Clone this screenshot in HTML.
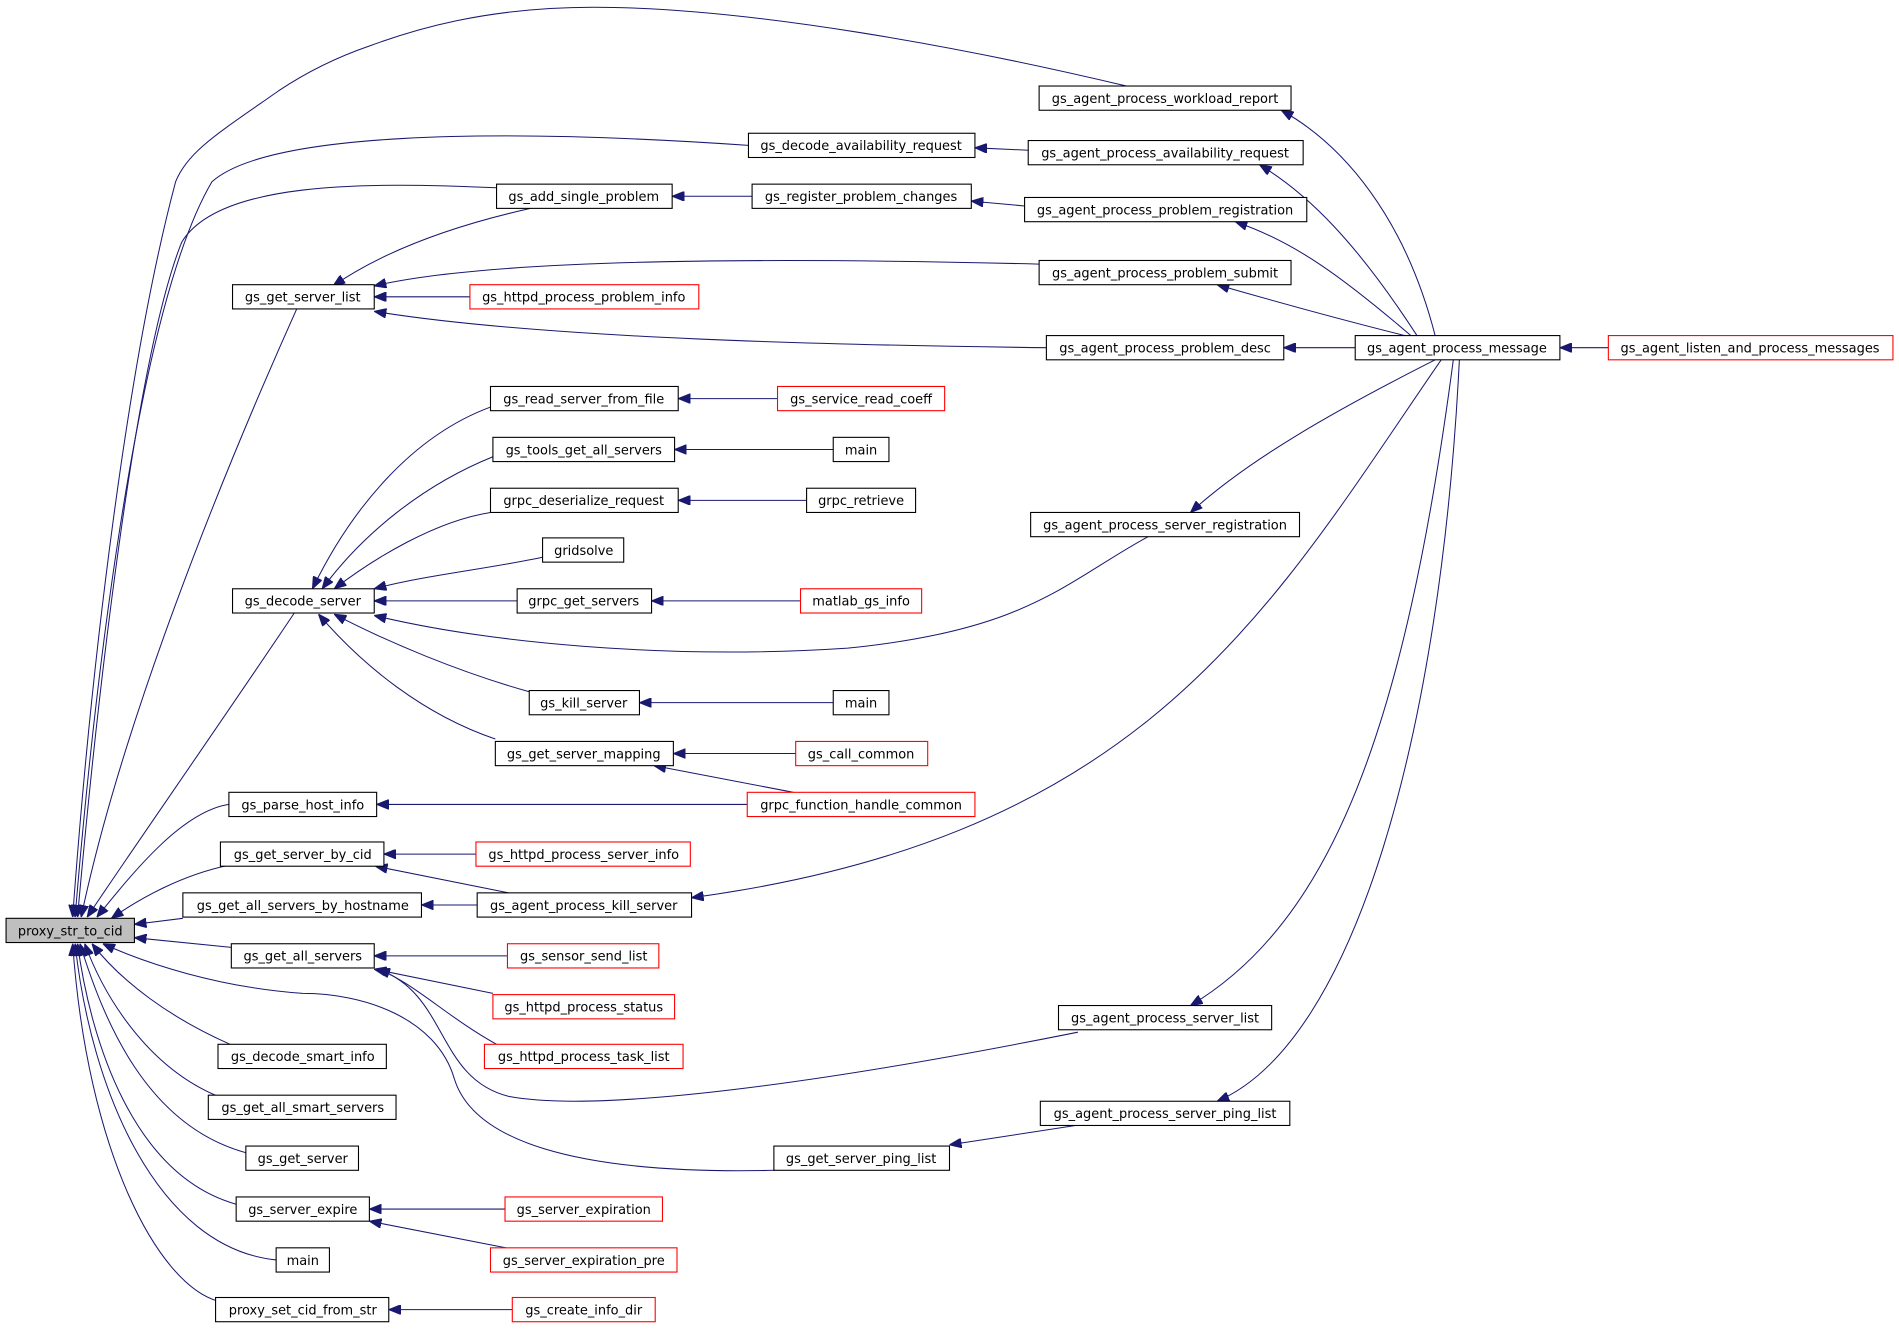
<!DOCTYPE html>
<html><head><meta charset="utf-8"><style>
html,body{margin:0;padding:0;background:#fff;}
svg{display:block;}
text{font-family:"DejaVu Sans","Liberation Sans",sans-serif;font-size:10.7px;fill:#000;text-anchor:middle;}
.b{fill:#fff;stroke:#000;stroke-width:0.9;}
.r{fill:#fff;stroke:#f00;stroke-width:0.9;}
.g{fill:#bfbfbf;stroke:#000;stroke-width:0.9;}
path{fill:none;stroke:#191970;stroke-width:0.85;}
</style></head><body>
<svg width="1899" height="1329" viewBox="0 0 1568 1097" preserveAspectRatio="none">
<defs><marker id="a" viewBox="0 0 10 8" refX="10" refY="4" markerWidth="10" markerHeight="8" markerUnits="userSpaceOnUse" orient="auto"><path d="M0,0L10,4L0,8z" style="fill:#191970;stroke:#191970"/></marker></defs>
<g marker-end="url(#a)">
<path d="M930,71 C800,40 620,6 490,6 C400,6 340,25 305,38 C270,50 245,65 230,75 C180,110 155,125 145,150 C105,300 75,550 60,757"/>
<path d="M618,120 C400,105 220,110 175,150 C110,260 75,600 62,757"/>
<path d="M410,155 C300,150 180,150 150,200 C110,300 78,600 64,757"/>
<path d="M245,255 C180,400 100,600 67,757"/>
<path d="M243,506 C180,600 110,700 72,757"/>
<path d="M189,664 C150,670 110,720 80,757"/>
<path d="M190,714 C150,722 115,742 92,758"/>
<path d="M151,758 L111,763"/>
<path d="M191,782 L111,774"/>
<path d="M640,966 C470,970 390,940 375,890 C360,840 300,820 250,820 C180,815 120,795 85,779"/>
<path d="M190,862 C140,840 100,810 76,779"/>
<path d="M180,905 C120,880 85,820 70,779"/>
<path d="M205,952 C120,930 85,840 66,779"/>
<path d="M195,994 C110,970 75,860 64,779"/>
<path d="M228,1040 C130,1030 75,900 62,779"/>
<path d="M180,1074 C130,1060 72,950 60,779"/>
<path d="M849,124 L805,122"/>
<path d="M621,162 L555,162"/>
<path d="M846,170 L802,166"/>
<path d="M438,172 C380,185 320,205 275,236"/>
<path d="M858,218 C700,214 420,210 309,236"/>
<path d="M388,245 L309,245"/>
<path d="M864,287 C700,285 450,280 309,257"/>
<path d="M1119,287 L1060,287"/>
<path d="M1328,287 L1288,287"/>
<path d="M1185,277 C1160,180 1110,120 1058,91"/>
<path d="M1170,277 C1120,200 1080,160 1040,136"/>
<path d="M1165,277 C1110,230 1070,200 1020,183"/>
<path d="M1160,277 C1100,262 1050,248 1005,235"/>
<path d="M1185,297 C1100,340 1030,380 983,423"/>
<path d="M1190,297 C1050,500 950,690 571,741"/>
<path d="M1200,297 C1160,600 1100,760 983,830"/>
<path d="M1205,297 C1190,600 1120,860 1005,909"/>
<path d="M405,336 C340,360 290,420 258,486"/>
<path d="M407,377 C350,400 300,440 266,486"/>
<path d="M405,423 C360,430 310,460 276,486"/>
<path d="M448,460 C400,470 350,475 309,486"/>
<path d="M427,496 L309,496"/>
<path d="M948,443 C880,480 850,520 700,535 C550,545 400,530 309,508"/>
<path d="M437,571 C380,555 320,530 276,507"/>
<path d="M409,610 C350,590 300,550 263,507"/>
<path d="M642,329 L560,329"/>
<path d="M688,371 L557,371"/>
<path d="M666,413 L560,413"/>
<path d="M661,496 L538,496"/>
<path d="M688,580 L528,580"/>
<path d="M657,622 L556,622"/>
<path d="M655,654 L540,632"/>
<path d="M617,664 L311,664"/>
<path d="M393,705 L317,705"/>
<path d="M420,737 L310,715"/>
<path d="M394,747 L348,747"/>
<path d="M419,789 L309,789"/>
<path d="M407,820 L309,800"/>
<path d="M410,862 C370,840 340,810 312,800"/>
<path d="M890,852 C700,890 500,920 420,905 C360,890 370,820 312,800"/>
<path d="M888,929 L784,945"/>
<path d="M417,998 L305,998"/>
<path d="M418,1030 L305,1008"/>
<path d="M423,1081 L321,1081"/>
</g>
<g>
<rect class="g" x="5" y="758" width="106" height="20"/><text x="58" y="772">proxy_str_to_cid</text>
<rect class="b" x="858" y="71" width="208" height="20"/><text x="962" y="85">gs_agent_process_workload_report</text>
<rect class="b" x="618" y="110" width="187" height="20"/><text x="711" y="124">gs_decode_availability_request</text>
<rect class="b" x="849" y="116" width="227" height="20"/><text x="962" y="130">gs_agent_process_availability_request</text>
<rect class="b" x="410" y="152" width="145" height="20"/><text x="482" y="166">gs_add_single_problem</text>
<rect class="b" x="621" y="152" width="181" height="20"/><text x="711" y="166">gs_register_problem_changes</text>
<rect class="b" x="846" y="163" width="233" height="20"/><text x="962" y="177">gs_agent_process_problem_registration</text>
<rect class="b" x="192" y="235" width="117" height="20"/><text x="250" y="249">gs_get_server_list</text>
<rect class="r" x="388" y="235" width="189" height="20"/><text x="482" y="249">gs_httpd_process_problem_info</text>
<rect class="b" x="858" y="215" width="208" height="20"/><text x="962" y="229">gs_agent_process_problem_submit</text>
<rect class="b" x="864" y="277" width="196" height="20"/><text x="962" y="291">gs_agent_process_problem_desc</text>
<rect class="b" x="1119" y="277" width="169" height="20"/><text x="1203" y="291">gs_agent_process_message</text>
<rect class="r" x="1328" y="277" width="235" height="20"/><text x="1445" y="291">gs_agent_listen_and_process_messages</text>
<rect class="b" x="405" y="319" width="155" height="20"/><text x="482" y="333">gs_read_server_from_file</text>
<rect class="r" x="642" y="319" width="138" height="20"/><text x="711" y="333">gs_service_read_coeff</text>
<rect class="b" x="407" y="361" width="150" height="20"/><text x="482" y="375">gs_tools_get_all_servers</text>
<rect class="b" x="688" y="361" width="46" height="20"/><text x="711" y="375">main</text>
<rect class="b" x="405" y="403" width="155" height="20"/><text x="482" y="417">grpc_deserialize_request</text>
<rect class="b" x="666" y="403" width="90" height="20"/><text x="711" y="417">grpc_retrieve</text>
<rect class="b" x="851" y="423" width="222" height="20"/><text x="962" y="437">gs_agent_process_server_registration</text>
<rect class="b" x="448" y="444" width="67" height="20"/><text x="482" y="458">gridsolve</text>
<rect class="b" x="192" y="486" width="117" height="20"/><text x="250" y="500">gs_decode_server</text>
<rect class="b" x="427" y="486" width="111" height="20"/><text x="482" y="500">grpc_get_servers</text>
<rect class="r" x="661" y="486" width="100" height="20"/><text x="711" y="500">matlab_gs_info</text>
<rect class="b" x="437" y="570" width="91" height="20"/><text x="482" y="584">gs_kill_server</text>
<rect class="b" x="688" y="570" width="46" height="20"/><text x="711" y="584">main</text>
<rect class="b" x="409" y="612" width="147" height="20"/><text x="482" y="626">gs_get_server_mapping</text>
<rect class="r" x="657" y="612" width="109" height="20"/><text x="711" y="626">gs_call_common</text>
<rect class="b" x="189" y="654" width="122" height="20"/><text x="250" y="668">gs_parse_host_info</text>
<rect class="r" x="617" y="654" width="188" height="20"/><text x="711" y="668">grpc_function_handle_common</text>
<rect class="b" x="182" y="695" width="135" height="20"/><text x="250" y="709">gs_get_server_by_cid</text>
<rect class="r" x="393" y="695" width="177" height="20"/><text x="482" y="709">gs_httpd_process_server_info</text>
<rect class="b" x="151" y="737" width="197" height="20"/><text x="250" y="751">gs_get_all_servers_by_hostname</text>
<rect class="b" x="394" y="737" width="177" height="20"/><text x="482" y="751">gs_agent_process_kill_server</text>
<rect class="b" x="191" y="779" width="118" height="20"/><text x="250" y="793">gs_get_all_servers</text>
<rect class="r" x="419" y="779" width="125" height="20"/><text x="482" y="793">gs_sensor_send_list</text>
<rect class="r" x="407" y="821" width="150" height="20"/><text x="482" y="835">gs_httpd_process_status</text>
<rect class="b" x="874" y="830" width="176" height="20"/><text x="962" y="844">gs_agent_process_server_list</text>
<rect class="r" x="400" y="862" width="164" height="20"/><text x="482" y="876">gs_httpd_process_task_list</text>
<rect class="b" x="180" y="862" width="139" height="20"/><text x="250" y="876">gs_decode_smart_info</text>
<rect class="b" x="172" y="904" width="155" height="20"/><text x="250" y="918">gs_get_all_smart_servers</text>
<rect class="b" x="859" y="909" width="206" height="20"/><text x="962" y="923">gs_agent_process_server_ping_list</text>
<rect class="b" x="203" y="946" width="93" height="20"/><text x="250" y="960">gs_get_server</text>
<rect class="b" x="639" y="946" width="145" height="20"/><text x="711" y="960">gs_get_server_ping_list</text>
<rect class="b" x="195" y="988" width="110" height="20"/><text x="250" y="1002">gs_server_expire</text>
<rect class="r" x="417" y="988" width="130" height="20"/><text x="482" y="1002">gs_server_expiration</text>
<rect class="b" x="228" y="1030" width="44" height="20"/><text x="250" y="1044">main</text>
<rect class="r" x="405" y="1030" width="154" height="20"/><text x="482" y="1044">gs_server_expiration_pre</text>
<rect class="b" x="178" y="1071" width="143" height="20"/><text x="250" y="1085">proxy_set_cid_from_str</text>
<rect class="r" x="423" y="1071" width="118" height="20"/><text x="482" y="1085">gs_create_info_dir</text>
</g>
</svg>
</body></html>
